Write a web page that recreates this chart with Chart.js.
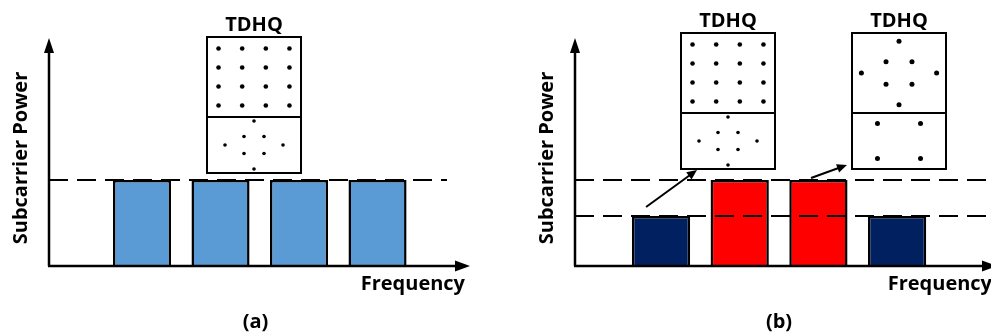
<!DOCTYPE html>
<html>
<head>
<meta charset="utf-8">
<script src="https://cdn.jsdelivr.net/npm/chart.js@4/dist/chart.umd.min.js"></script>
<style>
  html, body { margin: 0; padding: 0; background: #fff; }
  #stage { position: relative; width: 991px; height: 336px; overflow: hidden; background: #fff; }
  #stage canvas { position: absolute; }
</style>
</head>
<body>
<div id="stage">
  <canvas id="panelA" width="495" height="336" style="left:0;top:0"></canvas>
  <canvas id="panelB" width="496" height="336" style="left:495px;top:0"></canvas>
  <canvas id="a1Top" width="96" height="108" style="left:206px;top:10px"></canvas>
  <canvas id="a1Bottom" width="96" height="58" style="left:206px;top:116px"></canvas>
  <canvas id="b1Top" width="96" height="108" style="left:680px;top:6px"></canvas>
  <canvas id="b1Bottom" width="96" height="58" style="left:680px;top:112px"></canvas>
  <canvas id="b2Top" width="96" height="108" style="left:851px;top:6px"></canvas>
  <canvas id="b2Bottom" width="96" height="58" style="left:851px;top:112px"></canvas>
</div>
<script>
// subcarriers (frequency index) and their power
const subcarriers = [1, 2, 3, 4];
const powerA = [1, 1, 1, 1];
const powerB = [0.58, 1, 1, 0.58];
const levelsA = [1];
const levelsB = [1, 0.58];
const levelSpanA = [-0.185, 4.885];
const levelSpanB = [-0.093, 5.3];

// power boost arrows in (b): [frequency, power]
const arrowFromB = [[0.81, 0.686], [2.906, 1.023]];
const arrowToB = [[1.457, 1.116], [3.363, 1.174]];

// constellations shown in the TDHQ boxes
const qam16 = [
  [-3, 3], [-1, 3], [1, 3], [3, 3],
  [-3, 1], [-1, 1], [1, 1], [3, 1],
  [-3, -1], [-1, -1], [1, -1], [3, -1],
  [-3, -3], [-1, -3], [1, -3], [3, -3]
];
const star8 = [[0, 2.4], [-1, 0.85], [1, 0.85], [-2.9, 0], [2.9, 0], [-1, -0.85], [1, -0.85], [0, -2.4]];
const qpsk = [[-1, 1], [1, 1], [-1, -1], [1, -1]];

const FONT = '"Open Sans", "DejaVu Sans", sans-serif';

function arrowHead(ctx, x, y, angle, len, half) {
  const c = Math.cos(angle), s = Math.sin(angle);
  ctx.beginPath();
  ctx.moveTo(x, y);
  ctx.lineTo(x - len * c + half * s, y - len * s - half * c);
  ctx.lineTo(x - len * c - half * s, y - len * s + half * c);
  ctx.closePath();
  ctx.fill();
}

// axes with arrows, axis titles, caption and the boost arrows
const diagram = {
  id: 'diagram',
  afterDatasetsDraw(chart, args, o) {
    const { ctx, chartArea: a } = chart;
    const tipX = a.right + o.overhang;
    ctx.save();
    ctx.strokeStyle = '#000';
    ctx.fillStyle = '#000';
    ctx.lineWidth = 2.5;
    ctx.beginPath();
    ctx.moveTo(a.left, a.bottom);
    ctx.lineTo(a.left, a.top + 12);
    ctx.moveTo(a.left - 1, a.bottom);
    ctx.lineTo(tipX - 12, a.bottom);
    ctx.stroke();
    arrowHead(ctx, a.left, a.top, -Math.PI / 2, 15, 5);
    arrowHead(ctx, tipX, a.bottom, 0, 15, 5.5);

    if (o.from) {
      const xs = chart.scales.x, ys = chart.scales.y;
      ctx.lineWidth = 2;
      o.from.forEach((p, i) => {
        const x0 = xs.getPixelForValue(p[0]), y0 = ys.getPixelForValue(p[1]);
        const x1 = xs.getPixelForValue(o.to[i][0]), y1 = ys.getPixelForValue(o.to[i][1]);
        const ang = Math.atan2(y1 - y0, x1 - x0);
        ctx.beginPath();
        ctx.moveTo(x0, y0);
        ctx.lineTo(x1 - 6 * Math.cos(ang), y1 - 6 * Math.sin(ang));
        ctx.stroke();
        arrowHead(ctx, x1, y1, ang, 10, 4.5);
      });
    }

    ctx.font = 'bold 20px ' + FONT;
    ctx.textAlign = 'right';
    ctx.textBaseline = 'alphabetic';
    ctx.fillText('Frequency', tipX - 5, a.bottom + 24);
    ctx.textAlign = 'center';
    ctx.textBaseline = 'middle';
    ctx.fillText(o.caption, (a.left + a.right) / 2 - 4, 322);
    ctx.translate(a.left - 28, a.bottom - 108);
    ctx.rotate(-Math.PI / 2);
    ctx.fillText('Subcarrier Power', 0, 0);
    ctx.restore();
  }
};

function panel(id, power, colors, levels, span, range, extra) {
  const datasets = levels.map(level => ({
    type: 'line',
    data: [{ x: span[0], y: level }, { x: span[1], y: level }],
    borderColor: '#000',
    borderWidth: 2,
    borderDash: [19, 9],
    pointRadius: 0,
    order: 0
  }));
  datasets.push({
    type: 'bar',
    data: subcarriers.map((f, i) => ({ x: f, y: power[i] })),
    backgroundColor: colors,
    borderColor: '#000',
    borderWidth: 2.5,
    categoryPercentage: 1,
    barPercentage: 0.74,
    order: 1
  });
  return new Chart(document.getElementById(id), {
    type: 'bar',
    data: { datasets },
    options: {
      responsive: false,
      animation: false,
      events: [],
      layout: { padding: extra.padding, autoPadding: false },
      scales: {
        x: { type: 'linear', display: false, offset: false, min: range[0], max: range[1],
             ticks: { stepSize: 1, includeBounds: false } },
        y: { type: 'linear', display: false, min: 0, max: 2.65 }
      },
      plugins: {
        legend: { display: false },
        tooltip: { enabled: false },
        diagram: extra.diagram
      }
    },
    plugins: [diagram]
  });
}

panel('panelA', powerA, '#5B9BD5', levelsA, levelSpanA, [-0.185, 5.178], {
  padding: { left: 49, right: 25, top: 38, bottom: 70 },
  diagram: { overhang: 0, caption: '(a)' }
});
panel('panelB', powerB, ['#002060', '#FF0000', '#FF0000', '#002060'], levelsB, levelSpanB, [-0.093, 5.193], {
  padding: { left: 80, right: 0, top: 38, bottom: 70 },
  diagram: { overhang: 6, caption: '(b)', from: arrowFromB, to: arrowToB }
});

const frame = {
  id: 'frame',
  afterDraw(chart) {
    const { ctx, chartArea: a } = chart;
    ctx.save();
    ctx.strokeStyle = '#000';
    ctx.lineWidth = 2;
    ctx.strokeRect(a.left + 1, a.top + 1, a.width - 2, a.height - 2);
    ctx.restore();
  }
};

function inset(id, pts, xr, yr, radius, title) {
  return new Chart(document.getElementById(id), {
    type: 'scatter',
    data: {
      datasets: [{
        data: pts.map(p => ({ x: p[0], y: p[1] })),
        pointRadius: radius,
        pointBackgroundColor: '#000',
        pointBorderWidth: 0
      }]
    },
    options: {
      responsive: false,
      animation: false,
      events: [],
      layout: { padding: 0, autoPadding: false },
      scales: {
        x: { type: 'linear', display: false, min: -xr, max: xr },
        y: { type: 'linear', display: false, min: -yr, max: yr }
      },
      plugins: {
        legend: { display: false },
        tooltip: { enabled: false },
        title: {
          display: !!title,
          text: title || '',
          color: '#000',
          font: { family: FONT, size: 20, weight: 'bold', lineHeight: 0.8 },
          padding: { top: 7, bottom: 3 }
        }
      }
    },
    plugins: [frame]
  });
}

inset('a1Top', qam16, 4.06, 4.32, 2.3, 'TDHQ');
inset('a1Bottom', star8, 4.8, 2.9, 1.8);
inset('b1Top', qam16, 4.06, 4.32, 2.3, 'TDHQ');
inset('b1Bottom', star8, 4.8, 2.9, 1.8);
inset('b2Top', star8, 3.7, 3.1, 2.5, 'TDHQ');
inset('b2Bottom', qpsk, 2.23, 1.66, 2.5);
</script>
</body>
</html>
